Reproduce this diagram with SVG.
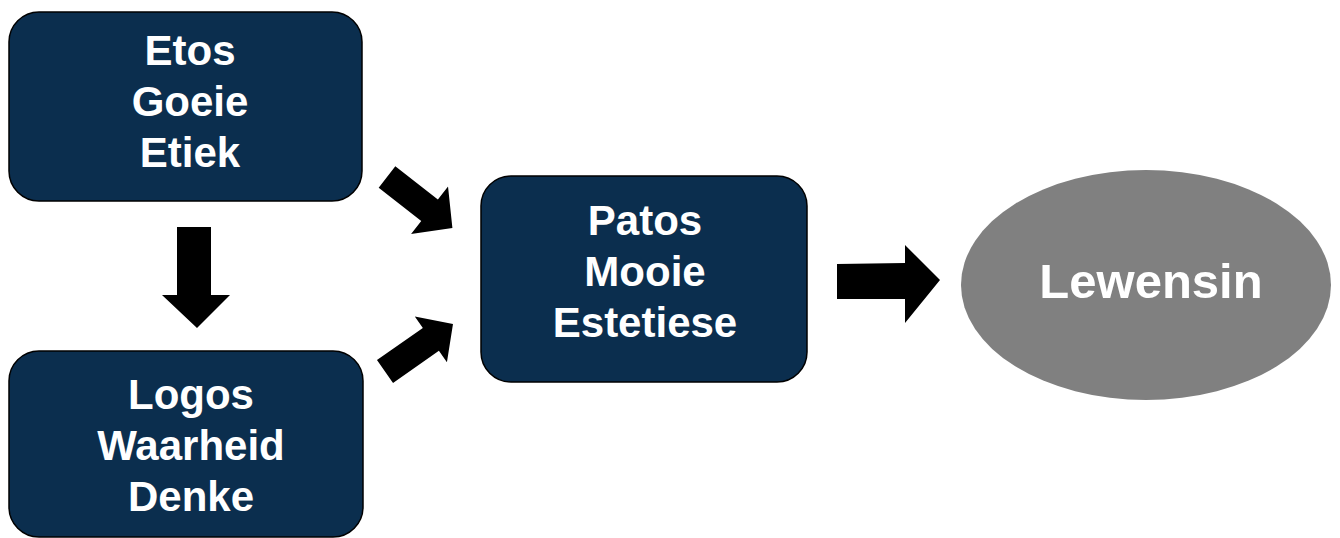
<svg xmlns="http://www.w3.org/2000/svg" width="1340" height="538" viewBox="0 0 1340 538">
  <style>
    .box { fill: #0b2e4e; stroke: #000; stroke-width: 1.5; }
    .t { font-family: "Liberation Sans", Arial, sans-serif; font-weight: bold; fill: #fff; text-anchor: middle; }
    .t41 { font-size: 42px; }
    .arr { fill: #000; }
  </style>
  <rect width="1340" height="538" fill="#fff"/>
  <g id="connectors">
    <polygon class="arr" points="177,227 211,227 211,295 230,295 197,328 162,295 177,295"/>
    <polygon class="arr" transform="translate(387,177) rotate(38)" points="0,-13.5 54,-13.5 54,-30 83,0 54,30 54,13.5 0,13.5"/>
    <polygon class="arr" transform="translate(385,371.5) rotate(-35)" points="0,-14 56,-14 56,-28 83,0 56,28 56,14 0,14"/>
    <polygon class="arr" points="837,264 905,263 905,245 940,280 905,323 905,299 837,299"/>
  </g>
  <g id="node-etos">
    <rect class="box" x="9" y="12" width="353" height="189" rx="30" ry="30"/>
    <text class="t t41" x="190" y="65">Etos</text>
    <text class="t t41" x="190" y="116">Goeie</text>
    <text class="t t41" x="190" y="167">Etiek</text>
  </g>
  <g id="node-logos">
    <rect class="box" x="9" y="351" width="354" height="186" rx="30" ry="30"/>
    <text class="t t41" x="191" y="409">Logos</text>
    <text class="t t41" x="191" y="460">Waarheid</text>
    <text class="t t41" x="191" y="511">Denke</text>
  </g>
  <g id="node-patos">
    <rect class="box" x="481" y="176" width="326" height="206" rx="30" ry="30"/>
    <text class="t t41" x="645" y="235">Patos</text>
    <text class="t t41" x="645" y="286">Mooie</text>
    <text class="t t41" x="645" y="337">Estetiese</text>
  </g>
  <g id="node-lewensin">
    <ellipse cx="1146" cy="285" rx="185" ry="115" fill="#808080"/>
    <text class="t" x="1151" y="298" font-size="49">Lewensin</text>
  </g>
</svg>
